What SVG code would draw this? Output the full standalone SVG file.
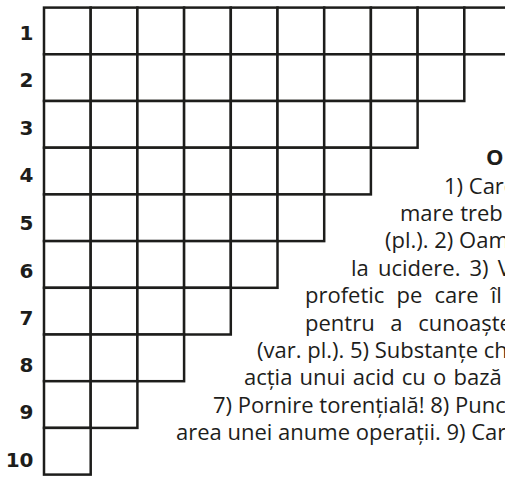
<svg xmlns="http://www.w3.org/2000/svg" width="505" height="477" viewBox="0 0 505 477">
<style>
.c{fill:#fff;stroke:#1d1d1b;stroke-width:2.5}
.n{font-family:"DejaVu Sans",sans-serif;font-weight:bold;font-size:20px;fill:#1d1d1b;text-anchor:end}
.t{font-family:"Open Sans","Noto Sans",sans-serif;font-size:22px;fill:#1d1d1b}
.h{font-family:"Open Sans","Noto Sans",sans-serif;font-weight:bold;font-size:22px;fill:#1d1d1b}
</style>
<rect width="505" height="477" fill="#fff"/>
<defs><rect id="cell" class="c" width="46.7" height="46.7"/></defs>
<g id="grid">
<g id="row1"><use href="#cell" x="44" y="7.6"/><use href="#cell" x="90.7" y="7.6"/><use href="#cell" x="137.4" y="7.6"/><use href="#cell" x="184.1" y="7.6"/><use href="#cell" x="230.8" y="7.6"/><use href="#cell" x="277.5" y="7.6"/><use href="#cell" x="324.2" y="7.6"/><use href="#cell" x="370.9" y="7.6"/><use href="#cell" x="417.6" y="7.6"/><use href="#cell" x="464.3" y="7.6"/></g>
<g id="row2"><use href="#cell" x="44" y="54.3"/><use href="#cell" x="90.7" y="54.3"/><use href="#cell" x="137.4" y="54.3"/><use href="#cell" x="184.1" y="54.3"/><use href="#cell" x="230.8" y="54.3"/><use href="#cell" x="277.5" y="54.3"/><use href="#cell" x="324.2" y="54.3"/><use href="#cell" x="370.9" y="54.3"/><use href="#cell" x="417.6" y="54.3"/></g>
<g id="row3"><use href="#cell" x="44" y="101"/><use href="#cell" x="90.7" y="101"/><use href="#cell" x="137.4" y="101"/><use href="#cell" x="184.1" y="101"/><use href="#cell" x="230.8" y="101"/><use href="#cell" x="277.5" y="101"/><use href="#cell" x="324.2" y="101"/><use href="#cell" x="370.9" y="101"/></g>
<g id="row4"><use href="#cell" x="44" y="147.7"/><use href="#cell" x="90.7" y="147.7"/><use href="#cell" x="137.4" y="147.7"/><use href="#cell" x="184.1" y="147.7"/><use href="#cell" x="230.8" y="147.7"/><use href="#cell" x="277.5" y="147.7"/><use href="#cell" x="324.2" y="147.7"/></g>
<g id="row5"><use href="#cell" x="44" y="194.4"/><use href="#cell" x="90.7" y="194.4"/><use href="#cell" x="137.4" y="194.4"/><use href="#cell" x="184.1" y="194.4"/><use href="#cell" x="230.8" y="194.4"/><use href="#cell" x="277.5" y="194.4"/></g>
<g id="row6"><use href="#cell" x="44" y="241.1"/><use href="#cell" x="90.7" y="241.1"/><use href="#cell" x="137.4" y="241.1"/><use href="#cell" x="184.1" y="241.1"/><use href="#cell" x="230.8" y="241.1"/></g>
<g id="row7"><use href="#cell" x="44" y="287.8"/><use href="#cell" x="90.7" y="287.8"/><use href="#cell" x="137.4" y="287.8"/><use href="#cell" x="184.1" y="287.8"/></g>
<g id="row8"><use href="#cell" x="44" y="334.5"/><use href="#cell" x="90.7" y="334.5"/><use href="#cell" x="137.4" y="334.5"/></g>
<g id="row9"><use href="#cell" x="44" y="381.2"/><use href="#cell" x="90.7" y="381.2"/></g>
<g id="row10"><use href="#cell" x="44" y="427.9"/></g>
</g>
<g id="numbers">
<text class="n" x="33.5" y="39.5">1</text>
<text class="n" x="33.5" y="87">2</text>
<text class="n" x="33.5" y="134.5">3</text>
<text class="n" x="33.5" y="182">4</text>
<text class="n" x="33.5" y="229.5">5</text>
<text class="n" x="33.5" y="277.5">6</text>
<text class="n" x="33.5" y="324.5">7</text>
<text class="n" x="33.5" y="371.5">8</text>
<text class="n" x="33.5" y="419">9</text>
<text class="n" x="33.5" y="466.5">10</text>
</g>
<g id="clues">
<text class="h" x="486" y="165">O</text>
<text class="t" x="444" y="193.5">1) Care</text>
<text class="t" x="400" y="220.9" style="word-spacing:0.5px">mare treb</text>
<text class="t" x="385" y="248.3">(pl.). 2) Oam</text>
<text class="t" x="351" y="275.7" style="word-spacing:3.4px">la ucidere. 3) V</text>
<text class="t" x="305" y="303.1" style="word-spacing:6.4px">profetic pe care îl</text>
<text class="t" x="305" y="330.5" style="word-spacing:10px">pentru a cunoaște</text>
<text class="t" x="257" y="357.9">(var. pl.). 5) Substanțe ch</text>
<text class="t" x="244" y="385.3" style="word-spacing:1.5px">acția unui acid cu o bază</text>
<text class="t" x="213" y="412.7">7) Pornire torențială! 8) Punc</text>
<text class="t" x="176" y="440.1">area unei anume operații. 9) Car</text>
</g>
</svg>
